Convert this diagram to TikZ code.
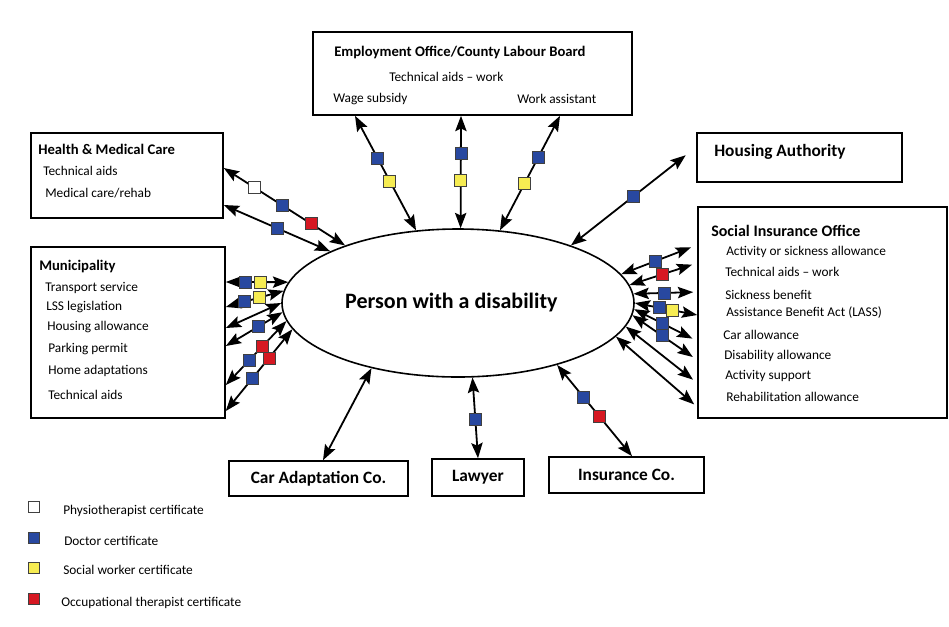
\documentclass[tikz,border=0pt]{standalone}
\usepackage{fontspec}
\setmainfont{Carlito}
\usetikzlibrary{arrows.meta,shapes.geometric,positioning}
\definecolor{docblue}{RGB}{40,72,160}
\definecolor{swyellow}{RGB}{246,236,82}
\definecolor{otred}{RGB}{214,24,34}
\tikzset{
    person/.style={
    ellipse,draw=black,line width=1.2pt,minimum width=264pt,minimum height=111pt,inner sep=0pt,
    font=\bfseries\fontsize{16.5}{20}\selectfont
    },
    agency/.style 2 args={
    rectangle,draw=black,line width=1.2pt,minimum width=#1*0.75pt,minimum height=#2*0.75pt
    },
    title/.style={
    anchor=west,inner sep=0pt,font=\bfseries\fontsize{11}{13}\selectfont
    },
    item/.style={
    anchor=west,inner sep=0pt,font=\fontsize{10}{12}\selectfont
    },
    link/.style={
    {Stealth[length=11.5pt,width=8.5pt,inset=2pt]}-{Stealth[length=11.5pt,width=8.5pt,inset=2pt]},line width=1.35pt
    },
    cert/.style={
    rectangle,draw=black!75,line width=0.5pt,minimum size=9pt,inner sep=0pt
    },
    docsq/.style={cert,fill=docblue},
    swsq/.style={cert,fill=swyellow},
    otsq/.style={cert,fill=otred},
    physsq/.style={cert,fill=white},
    legsq/.style={
    rectangle,draw=black!75,line width=0.6pt,minimum size=8pt,inner sep=0pt
    },
}

\begin{document}
\begin{tikzpicture}[x=0.75pt,y=-0.75pt]
   \useasboundingbox (0,0) rectangle (949,626);

   % the person in the middle
   \node[person] (person) at (458,303) {Person with a disability\hspace*{10pt}};

   % agencies
   \node[agency={319}{83}] (eo) at (472.5,73.5) {};
   \node[title] (eot) at (334,52) {Employment Office/County Labour Board};
   \node[item] (eo1) at (389,77) {Technical aids -- work};
   \node[item] (eo2) at (333,99) {Wage subsidy};
   \node[item] (eo3) at (517,99) {Work assistant};

   \node[agency={192}{85}] (hmc) at (127,175.5) {};
   \node[title] (hmct) at (38,149) {Health \& Medical Care};
   \node[item] (hmc1) at (43,171) {Technical aids};
   \node[item] (hmc2) at (45,193) {Medical care/rehab};

   \node[agency={205}{49}] (ha) at (799.5,157.5) {};
   \node[title,font=\bfseries\fontsize{13}{15}\selectfont] (hat) at (714,152) {Housing Authority};

   \node[agency={194}{171}] (mun) at (128,332.5) {};
   \node[title] (munt) at (39,266) {Municipality};
   \foreach \x/\y/\t [count=\i] in {45/288/Transport service,46/307/LSS legislation,
      47/327/Housing allowance,48/349/Parking permit,48/371/Home adaptations,48/395/Technical aids}
      \node[item] (mun\i) at (\x,\y) {\t};

   \node[agency={249}{211}] (sio) at (822.5,312.5) {};
   \node[title,font=\bfseries\fontsize{12}{14}\selectfont] (siot) at (711,231) {Social Insurance Office};
   \foreach \x/\y/\t [count=\i] in {726/252/Activity or sickness allowance,725/272/Technical aids -- work,
      725/295/Sickness benefit,726/313/Assistance Benefit Act (LASS),723/335/Car allowance,
      724/356/Disability allowance,725/376/Activity support,726/397/Rehabilitation allowance}
      \node[item] (sio\i) at (\x,\y) {\t};

   \node[agency={179}{35},font=\bfseries\fontsize{13}{15}\selectfont] (car) at (318.5,478.5) {Car Adaptation Co.};
   \node[agency={92}{37},font=\bfseries\fontsize{13}{15}\selectfont] (law) at (478,477.5) {Lawyer};
   \node[agency={155}{36},font=\bfseries\fontsize{13}{15}\selectfont] (ins) at (626.5,475) {Insurance Co.};

   % connectors to the employment office
   \draw[link] (person.120) -- node[pos=.43,swsq] (t1s) {} node[pos=.63,docsq] (t1d) {} (355,0 |- eo.south);
   \draw[link] (person.88) -- node[pos=.43,swsq] (t2s) {} node[pos=.67,docsq] (t2d) {} (461,0 |- eo.south);
   \draw[link] (person.60) -- node[pos=.41,swsq] (t3s) {} node[pos=.64,docsq] (t3d) {} (560,0 |- eo.south);

   % housing
   \draw[link,shorten >=10pt] (person.27) -- node[pos=.5,docsq] (h1d) {} (ha.west |- 0,147);

   % health and medical care
   \draw[link] (person.153) -- node[pos=.28,otsq] (m1o) {} node[pos=.52,docsq] (m1d) {}
      node[pos=.75,physsq] (m1p) {} (hmc.east |- 0,168);
   \draw[link] (person.158) -- node[pos=.5,docsq] (m2d) {} (hmc.east |- 0,205);

   % municipality
   \draw[link] (person.173) -- node[pos=.44,swsq] (u1s) {} node[pos=.68,docsq] (u1d) {} (mun.east |- 0,282);
   \draw[link] (person.176) -- node[pos=.42,swsq] (u2s) {} node[pos=.68,docsq] (u2d) {} (mun.east |- 0,307);
   \draw[link] (person.180) -- (mun.east |- 0,328);
   \draw[link] (person.183) -- node[pos=.43,docsq] (u4d) {} (mun.east |- 0,346);
   \draw[link] (person.186) -- node[pos=.39,otsq] (u5o) {} node[pos=.62,docsq] (u5d) {} (mun.east |- 0,385);
   \draw[link] (person.189) -- node[pos=.35,otsq] (u6o) {} node[pos=.6,docsq] (u6d) {} (mun.east |- 0,411);

   % social insurance office
   \draw[link,shorten >=5pt] (person.10) -- node[pos=.45,docsq] (s1d) {} (sio.west |- 0,245);
   \draw[link,shorten >=4pt] (person.6) -- node[pos=.48,otsq] (s2o) {} (sio.west |- 0,263);
   \draw[link,shorten >=3pt] (person.3) -- node[pos=.48,docsq] (s3d) {} (sio.west |- 0,292);
   \draw[link] (person.0) -- node[pos=.4,docsq] (s4d) {} node[pos=.6,swsq] (s4s) {} (sio.west |- 0,315);
   \draw[link,shorten >=4pt] (person.358) -- node[pos=.44,docsq] (s5d) {} (sio.west |- 0,341);
   \draw[link,shorten >=4pt] (person.356) -- node[pos=.46,docsq] (s6d) {} (sio.west |- 0,360);
   \draw[link,shorten >=4pt] (person.352) -- (sio.west |- 0,383);
   \draw[link,shorten >=3pt] (person.348) -- (sio.west |- 0,407);

   % bottom row
   \draw[link] (person.217) -- (323,0 |- car.north);
   \draw[link] (person.281) -- node[pos=.52,docsq] (l1d) {} (478,0 |- law.north);
   \draw[link] (person.328) -- node[pos=.35,docsq] (i1d) {} node[pos=.56,otsq] (i1o) {} (632,0 |- ins.north);

   % legend
   \foreach \y/\c [count=\i] in {507/white,538/docblue,568/swyellow,599/otred}
      \node[legsq,fill=\c] (lg\i) at (34,\y) {};
   \node[item] (lgt1) at (63,511) {Physiotherapist certificate};
   \node[item] (lgt2) at (64,541) {Doctor certificate};
   \node[item] (lgt3) at (63,570) {Social worker certificate};
   \node[item] (lgt4) at (61,603) {Occupational therapist certificate};
\end{tikzpicture}
\end{document}
